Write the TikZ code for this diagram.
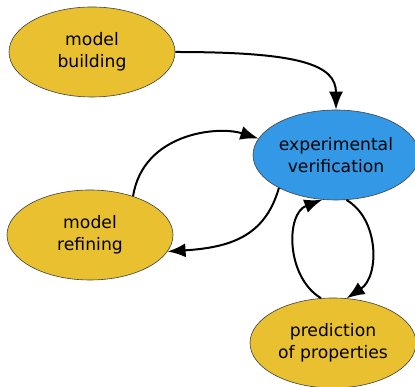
\documentclass[tikz,border=0pt]{standalone}
\usepackage{fontspec}
\setmainfont{DejaVu Sans}
\usepackage{tikz}
\usetikzlibrary{shapes.geometric,arrows.meta,positioning}
\definecolor{stepgold}{RGB}{232,192,48}
\definecolor{stepblue}{RGB}{51,153,230}

\begin{document}
\begin{tikzpicture}[
    x=1pt, y=1pt,
    font=\fontsize{17.2}{22}\selectfont,
    stage/.style={draw=black!75, line width=0.6pt, fill=stepgold, ellipse, minimum width=166pt, minimum height=90pt, inner sep=0pt, align=center},
    check/.style={stage, fill=stepblue},
    flow/.style={line width=2pt, -{Latex[length=18pt,width=14pt]}}
]
\useasboundingbox (0,0) rectangle (415,387);

\node[stage] (build) at (92,335) {model\\building};
\node[check] (verify) at (336,232) {experimental\\verification};
\node[stage] (refine) at (90,152) {model\\refining};
\node[stage] (predict) at (333,44) {prediction\\of properties};

\draw[flow] (build.east) .. controls +(125,0) and +(0,45) .. (verify.north);
\draw[flow] (refine.42) .. controls +(10,63) and +(-41,13) .. (verify.168);
\draw[flow] (verify.210) .. controls +(-14,-49) and +(62,4) .. (refine.348);
\draw[flow] (predict.105) .. controls +(-35,21) and +(-37,-14) .. (verify.253);
\draw[flow] (verify.283) .. controls +(33,-19) and +(33,22) .. (predict.73);

\end{tikzpicture}
\end{document}
